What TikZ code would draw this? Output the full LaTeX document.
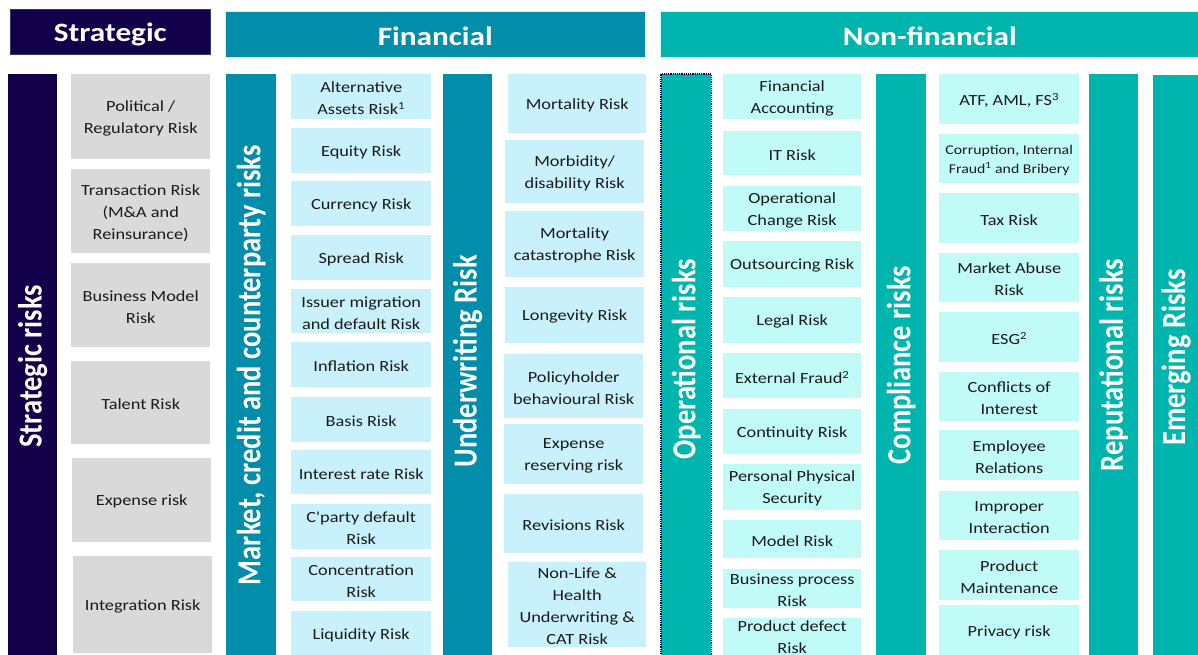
\documentclass[tikz,border=0pt]{standalone}
\usepackage{fontspec}
\usepackage{graphicx}
\setmainfont{Carlito}
\newfontfamily\bodyf[FakeStretch=1.18]{Carlito}
\newfontfamily\barf{Carlito}
\definecolor{navy}{HTML}{12004A}
\definecolor{fteal}{HTML}{028DAB}
\definecolor{flight}{HTML}{C9F1FC}
\definecolor{nteal}{HTML}{00B5AD}
\definecolor{nlight}{HTML}{C1FBF8}
\definecolor{sgray}{HTML}{D9D9D9}
\definecolor{txt}{HTML}{1A1A1A}
\tikzset{
  plainbox/.style={inner sep=0pt, anchor=north west},
  hdrtext/.style={inner sep=0pt, text=white, font=\bodyf\bfseries\fontsize{26.5}{30}\selectfont},
  bartext/.style={inner sep=0pt, text=white, rotate=90, font=\barf\bfseries\fontsize{28.5}{32}\selectfont},
  risktext/.style={inner sep=0pt, align=center, text=txt, font=\bodyf\fontsize{15.5}{22}\selectfont},
  smalltext/.style={risktext, font=\bodyf\fontsize{13.4}{19.5}\selectfont},
}
% #1 name, #2 box style, #3 text style, #4 x1, #5 y1, #6 x2, #7 y2, #8 text, #9 text shift down
\newcommand\rkbox[9]{%
  \pgfmathsetmacro\rkw{#6-#4}\pgfmathsetmacro\rkh{#7-#5}%
  \node[plainbox, #2, minimum width=\rkw pt, minimum height=\rkh pt] (#1) at (#4,#5) {};
  \node[#3] (#1-t) at ([yshift=-#9pt]#1.center) {#8};}
\begin{document}
\begin{tikzpicture}[x=1pt,y=-1pt]
\useasboundingbox (0,0) rectangle (1198,654);
\fill[white] (0,0) rectangle (1198,654);
% headers
\rkbox{hstrat}{fill=navy, draw=navy!60!gray, line width=0.6pt}{hdrtext}{10}{9}{210}{54}{Strategic}{2.5}
\rkbox{hfin}{fill=fteal, draw=flight, line width=0.6pt}{hdrtext}{225}{11}{645}{57}{Financial}{2}
\rkbox{hnfin}{fill=nteal, draw=nlight, line width=0.6pt}{hdrtext}{660}{11}{1199}{57}{Non-financial}{2}
% bars
\node[plainbox, fill=navy, minimum width=49pt, minimum height=582pt] (bstrat) at (8,74) {};
\node[plainbox, fill=fteal, minimum width=50pt, minimum height=582pt] (bmkt) at (226,74) {};
\node[plainbox, fill=fteal, minimum width=49pt, minimum height=582pt] (buw) at (443,74) {};
\node[plainbox, fill=nteal, minimum width=50pt, minimum height=582pt] (bop) at (661,74) {};
\draw[navy, densely dotted, line width=1.2pt] (bop.south west) -- (bop.north west) -- (bop.north east) -- (bop.south east);
\node[plainbox, fill=nteal, minimum width=50pt, minimum height=582pt] (bcomp) at (876,74) {};
\node[plainbox, fill=nteal, minimum width=49pt, minimum height=582pt] (brep) at (1089,74) {};
\node[plainbox, fill=nteal, minimum width=46pt, minimum height=581pt] (bemer) at (1153,75) {};
\node[bartext] (tstrat) at ([yshift=-1pt]bstrat.center) {\scalebox{1}[1.18]{Strategic risks}};
\node[bartext] (tmkt) at (bmkt.center) {\scalebox{1}[1.18]{Market, credit and counterparty risks}};
\node[bartext] (tuw) at ([yshift=4pt]buw.center) {\scalebox{1}[1.18]{Underwriting Risk}};
\node[bartext] (top) at ([yshift=6pt]bop.center) {\scalebox{1}[1.18]{Operational risks}};
\node[bartext] (tcomp) at (bcomp.center) {\scalebox{1}[1.18]{Compliance risks}};
\node[bartext] (trep) at (brep.center) {\scalebox{1}[1.18]{Reputational risks}};
\node[bartext] (temer) at ([yshift=8pt]bemer.center) {\scalebox{1}[1.18]{Emerging Risks}};
% strategic boxes
\rkbox{sb1}{fill=sgray}{risktext}{71}{74}{210}{159}{Political /\\Regulatory Risk}{1.5}
\rkbox{sb2}{fill=sgray}{risktext}{71}{169}{210}{253}{Transaction Risk\\(M\&A and\\Reinsurance)}{1.5}
\rkbox{sb3}{fill=sgray}{risktext}{71}{263}{210}{347}{Business Model\\Risk}{1.5}
\rkbox{sb4}{fill=sgray}{risktext}{71}{361}{210}{444}{Talent Risk}{1.5}
\rkbox{sb5}{fill=sgray}{risktext}{72}{458}{211}{542}{Expense risk}{1.5}
\rkbox{sb6}{fill=sgray}{risktext}{73}{556}{212}{653}{Integration Risk}{1.5}
% market boxes
\rkbox{mb1}{fill=flight}{risktext}{291}{74}{431}{119}{Alternative\\Assets Risk\textsuperscript{1}}{1.5}
\rkbox{mb2}{fill=flight}{risktext}{291}{128}{431}{173}{Equity Risk}{1.5}
\rkbox{mb3}{fill=flight}{risktext}{291}{181}{431}{226}{Currency Risk}{1.5}
\rkbox{mb4}{fill=flight}{risktext}{291}{235}{431}{280}{Spread Risk}{1.5}
\rkbox{mb5}{fill=flight}{risktext}{291}{289}{431}{333}{Issuer migration\\and default Risk}{1.5}
\rkbox{mb6}{fill=flight}{risktext}{291}{342}{431}{387}{Inflation Risk}{1.5}
\rkbox{mb7}{fill=flight}{risktext}{291}{397}{431}{442}{Basis Risk}{1.5}
\rkbox{mb8}{fill=flight}{risktext}{291}{450}{431}{494}{Interest rate Risk}{1.5}
\rkbox{mb9}{fill=flight}{risktext}{291}{504}{431}{549}{C'party default\\Risk}{1.5}
\rkbox{mb10}{fill=flight}{risktext}{291}{557}{431}{601}{Concentration\\Risk}{1.5}
\rkbox{mb11}{fill=flight}{risktext}{291}{611}{431}{656}{Liquidity Risk}{1.5}
% underwriting boxes
\rkbox{ub1}{fill=flight}{risktext}{508}{74}{646}{133}{Mortality Risk}{1.5}
\rkbox{ub2}{fill=flight}{risktext}{505}{140}{644}{203}{Morbidity/\\disability Risk}{1.5}
\rkbox{ub3}{fill=flight}{risktext}{505}{211}{644}{277}{Mortality\\catastrophe Risk}{1.5}
\rkbox{ub4}{fill=flight}{risktext}{505}{287}{644}{343}{Longevity Risk}{1.5}
\rkbox{ub5}{fill=flight}{risktext}{504}{354}{643}{418}{Policyholder\\behavioural Risk}{1.5}
\rkbox{ub6}{fill=flight}{risktext}{504}{424}{643}{484}{Expense\\reserving risk}{1.5}
\rkbox{ub7}{fill=flight}{risktext}{504}{494}{643}{553}{Revisions Risk}{1.5}
\rkbox{ub8}{fill=flight}{risktext}{508}{562}{646}{647}{Non-Life \&\\Health\\Underwriting \&\\CAT Risk}{1.5}
% operational boxes
\rkbox{ob1}{fill=nlight}{risktext}{723}{74}{861}{119}{Financial\\Accounting}{1.5}
\rkbox{ob2}{fill=nlight}{risktext}{723}{131}{861}{175}{IT Risk}{1.5}
\rkbox{ob3}{fill=nlight}{risktext}{723}{186}{861}{231}{Operational\\Change Risk}{1.5}
\rkbox{ob4}{fill=nlight}{risktext}{723}{241}{861}{287}{Outsourcing Risk}{1.5}
\rkbox{ob5}{fill=nlight}{risktext}{723}{297}{861}{343}{Legal Risk}{1.5}
\rkbox{ob6}{fill=nlight}{risktext}{723}{353}{861}{398}{External Fraud\textsuperscript{2}}{1.5}
\rkbox{ob7}{fill=nlight}{risktext}{723}{409}{861}{454}{Continuity Risk}{1.5}
\rkbox{ob8}{fill=nlight}{risktext}{723}{464}{861}{510}{Personal Physical\\Security}{1.5}
\rkbox{ob9}{fill=nlight}{risktext}{723}{520}{861}{558}{Model Risk}{1.5}
\rkbox{ob10}{fill=nlight}{risktext}{723}{569}{861}{608}{Business process\\Risk}{1.5}
\rkbox{ob11}{fill=nlight}{risktext}{723}{618}{861}{656}{Product defect\\Risk}{0}
% compliance boxes
\rkbox{cb1}{fill=nlight}{risktext}{939}{74}{1079}{124}{ATF, AML, FS\textsuperscript{3}}{1.5}
\rkbox{cb2}{fill=nlight}{smalltext}{939}{134}{1079}{183}{Corruption, Internal\\Fraud\textsuperscript{1} and Bribery}{1.5}
\rkbox{cb3}{fill=nlight}{risktext}{939}{193}{1079}{243}{Tax Risk}{1.5}
\rkbox{cb4}{fill=nlight}{risktext}{939}{253}{1079}{302}{Market Abuse\\Risk}{1.5}
\rkbox{cb5}{fill=nlight}{risktext}{939}{312}{1079}{362}{ESG\textsuperscript{2}}{1.5}
\rkbox{cb6}{fill=nlight}{risktext}{939}{372}{1079}{421}{Conflicts of\\Interest}{1.5}
\rkbox{cb7}{fill=nlight}{risktext}{939}{430}{1079}{480}{Employee\\Relations}{1.5}
\rkbox{cb8}{fill=nlight}{risktext}{939}{491}{1079}{540}{Improper\\Interaction}{1.5}
\rkbox{cb9}{fill=nlight}{risktext}{939}{550}{1079}{600}{Product\\Maintenance}{1.5}
\rkbox{cb10}{fill=nlight}{risktext}{939}{605}{1079}{657}{Privacy risk}{1.5}
\end{tikzpicture}
\end{document}
